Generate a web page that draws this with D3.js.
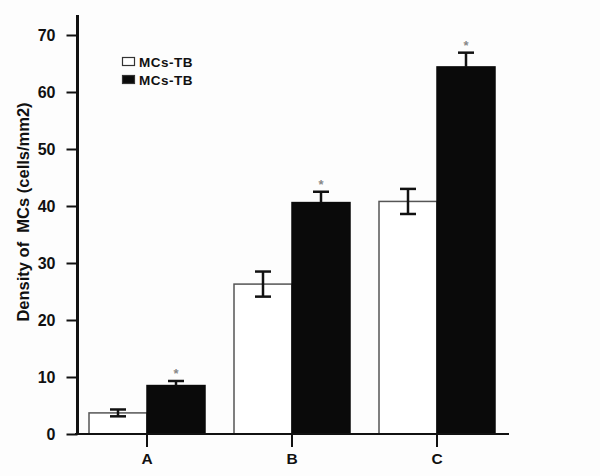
<!DOCTYPE html>
<html><head><meta charset="utf-8">
<script src="https://cdn.jsdelivr.net/npm/d3@7"></script>
<style>body{margin:0;background:#fdfdfd}svg{display:block}text{font-family:Arial,"Liberation Sans",sans-serif;font-weight:bold}</style>
</head><body><svg id="c" width="600" height="476"></svg>
<script>
const categories = ["A", "B", "C"];
const seriesNames = ["MCs-TB", "MCs-TB"];
const whiteValues = [3.7, 26.3, 40.8];
const whiteErrors = [0.6, 2.2, 2.2];
const blackValues = [8.5, 40.6, 64.4];
const blackErrors = [0.8, 1.9, 2.5];
const significant = [true, true, true];
const yTicks = [0, 10, 20, 30, 40, 50, 60, 70];

const svg = d3.select("#c");
const x = d3.scaleBand().domain(categories).range([74.5, 509.5]).paddingInner(0.2).paddingOuter(0.1);
const sub = d3.scaleBand().domain([0, 1]).range([0, x.bandwidth()]);
const y = d3.scaleLinear().domain([0, 70]).range([434, 35]);

const data = categories.map((c, i) => [
  {c, s: 0, v: whiteValues[i], e: whiteErrors[i]},
  {c, s: 1, v: blackValues[i], e: blackErrors[i], sig: significant[i]}
]).flat();

// bars
svg.append("g").selectAll("rect").data(data).join("rect")
  .attr("x", d => x(d.c) + sub(d.s))
  .attr("y", d => y(d.v))
  .attr("width", sub.bandwidth())
  .attr("height", d => y(0) - y(d.v))
  .attr("fill", d => d.s === 0 ? "#ffffff" : "#0a0a0a")
  .attr("stroke", d => d.s === 0 ? "#555" : "#0a0a0a")
  .attr("stroke-width", 1.5);

// error bars
const eg = svg.append("g").attr("stroke", "#111").attr("stroke-width", 2.5);
data.forEach(d => {
  const cx = x(d.c) + sub(d.s) + sub.bandwidth() / 2;
  const lo = d.s === 0 ? d.v - d.e : d.v;
  eg.append("line").attr("x1", cx).attr("x2", cx).attr("y1", y(d.v + d.e)).attr("y2", y(lo));
  eg.append("line").attr("x1", cx - 8).attr("x2", cx + 8).attr("y1", y(d.v + d.e)).attr("y2", y(d.v + d.e));
  if (d.s === 0) eg.append("line").attr("x1", cx - 8).attr("x2", cx + 8).attr("y1", y(lo)).attr("y2", y(lo));
  if (d.sig) svg.append("text").attr("x", cx).attr("y", y(d.v + d.e) - 3)
    .attr("text-anchor", "middle").attr("font-size", 13).attr("font-weight", "normal")
    .attr("fill", "#888").text("*");
});

// y axis
const ya = svg.append("g").attr("transform", "translate(77.5,0)")
  .call(d3.axisLeft(y).tickValues(yTicks).tickSize(11).tickPadding(11));
ya.select(".domain").remove();
ya.selectAll(".tick line").attr("stroke", "#111").attr("stroke-width", 2);
ya.selectAll(".tick text").attr("font-size", 16).attr("fill", "#111");
svg.append("line").attr("x1", 77.5).attr("x2", 77.5).attr("y1", 15).attr("y2", 435)
  .attr("stroke", "#111").attr("stroke-width", 3);

// x axis
svg.append("line").attr("x1", 75).attr("x2", 509).attr("y1", 434).attr("y2", 434)
  .attr("stroke", "#111").attr("stroke-width", 2);
const xa = svg.append("g").attr("transform", "translate(0,434)")
  .call(d3.axisBottom(x).tickSize(13).tickPadding(6));
xa.select(".domain").remove();
xa.selectAll(".tick line").attr("stroke", "#111").attr("stroke-width", 2);
xa.selectAll(".tick text").attr("font-size", 15.5).attr("fill", "#111");

// y label
svg.append("text").attr("transform", "translate(29,212) rotate(-90)")
  .attr("text-anchor", "middle").attr("font-size", 16.5).attr("fill", "#111")
  .style("white-space", "pre")
  .text("Density of  MCs (cells/mm2)");

// legend
const lg = svg.append("g");
seriesNames.forEach((n, i) => {
  lg.append("rect").attr("x", 122.5).attr("y", 57.5 + i * 18).attr("width", 12).attr("height", 8)
    .attr("fill", i === 0 ? "#fff" : "#0a0a0a").attr("stroke", "#333").attr("stroke-width", 1.2);
  lg.append("text").attr("x", 139).attr("y", 66.5 + i * 18).attr("font-size", 13.5)
    .attr("letter-spacing", 0.5).attr("fill", "#111").text(n);
});
</script></body></html>
